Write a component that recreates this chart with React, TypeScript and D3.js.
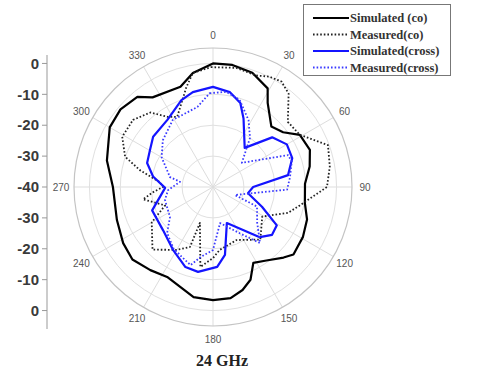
import React from 'react';
import * as d3 from 'd3';

// angle in degrees (clockwise from top), value in dB
const simCoAngles = [0, 9, 19, 29, 33, 44, 52, 59, 69, 78, 88, 100, 109, 119, 130, 135, 144, 152, 158, 164, 171, 180, 190, 207, 217, 228, 238, 251, 270, 284, 300, 310, 320, 326, 342, 350];
const simCoValues = [0, 0, -0.9, -3.5, -7.5, -12.8, -11.2, -7.2, -6.4, -8, -10.2, -9.8, -7.8, -6.7, -6, -7.7, -10.6, -12.2, -7.6, -5.3, -3.6, -3.4, -3.8, -7.3, -6.3, -4.9, -5.7, -7.1, -7.6, -4.6, -1.4, -0.9, -1.9, -5, -5.9, -2.5];

const measCoAngles = [359, 11, 21, 27, 33, 39, 49, 59, 70, 80, 90, 102, 109, 121, 138, 156, 174, 180, 189, 200, 201, 210, 224, 240, 249, 260, 265, 270, 275, 283, 289, 299, 310, 320, 327, 333, 345, 350];
const measCoValues = [-1.2, -0.7, -1.3, 0.1, 0.7, -1.1, -7.9, -7.2, -0.4, -1.6, -3.1, -11.3, -14.3, -21.4, -17.1, -21.2, -19.5, -17, -13.8, -27.6, -19.2, -16.5, -11.8, -17.1, -23.4, -17, -20.5, -23.8, -22.8, -15.7, -9.9, -6.4, -6.2, -8.5, -12.9, -14.5, -6.6, -2.5];

const simCrossAngles = [0, 10, 18, 24, 39, 50, 60, 70, 81, 90, 100, 112, 121, 129, 137, 159, 170, 177, 190, 199, 212, 229, 249, 269, 280, 290, 300, 310, 326, 340, 348];
const simCrossValues = [-7.6, -8.8, -11.4, -15.7, -23.7, -15, -12.4, -12.7, -15.4, -27, -28.5, -22.9, -15.9, -15.4, -17.8, -27.5, -17.7, -14.1, -12.1, -12.6, -15.8, -18.6, -18.9, -24.5, -20.3, -17.3, -16.4, -14.7, -13.7, -10.1, -8.6];

const measCrossAngles = [358, 8, 17, 28, 37, 50, 67, 72, 83, 92, 110, 114, 129, 140, 150, 169, 180, 190, 196, 204, 213, 225, 235, 255, 266, 279, 283, 300, 313, 329, 349];
const measCrossValues = [-9.6, -8.9, -10.5, -15.5, -20.1, -27.8, -13.6, -13.2, -14.9, -16, -32.4, -24.4, -21.6, -16.3, -22.7, -28.1, -19.6, -17, -13.7, -15.2, -16.4, -19, -23, -23.9, -25.4, -29.2, -25.7, -20.8, -17.8, -14.7, -13.6];

const ringValues = [-30, -20, -10, 0];
const spokeAngles = [0, 30, 60, 90, 120, 150, 180, 210, 240, 270, 300, 330];
const axisTickValues = [0, -10, -20, -30, -40, -30, -20, -10, 0];

const legendLabels = ['Simulated (co)', 'Measured(co)', 'Simulated(cross)', 'Measured(cross)'];

const W = 480;
const H = 376;
const cx = 213;
const cy = 187;
const R = 139;

const App = () => {
  const r = d3.scaleLinear().domain([-40, 5]).range([0, R]);
  const rad = (deg: number) => (deg * Math.PI) / 180;

  const line = d3.lineRadial<[number, number]>()
    .angle(d => rad(d[0]))
    .radius(d => r(d[1]))
    .curve(d3.curveLinearClosed);

  const series = [
    { angles: simCoAngles, values: simCoValues, color: '#000', dash: null, width: 2.2 },
    { angles: measCoAngles, values: measCoValues, color: '#222', dash: '1.6,2', width: 1.8 },
    { angles: simCrossAngles, values: simCrossValues, color: '#1414ff', dash: null, width: 2.2 },
    { angles: measCrossAngles, values: measCrossValues, color: '#3a3aff', dash: '1.6,2', width: 1.8 },
  ];

  // left dB axis: upper half goes up from center, lower half mirrors it
  const axisY = (i: number) => {
    const v = axisTickValues[i];
    const half = Math.floor(axisTickValues.length / 2);
    return i <= half ? cy - r(v) : cy + r(v);
  };

  return (
    <svg width={W} height={H} style={{ position: 'absolute', left: 0, top: 0, background: '#fff' }}>
      <rect width={W} height={H} fill="#fff" />

      {/* left axis */}
      <line x1={47} x2={47} y1={55} y2={329} stroke="#999" strokeWidth={1} />
      {axisTickValues.map((v, i) => (
        <g key={'t' + i}>
          <line x1={42} x2={47} y1={axisY(i)} y2={axisY(i)} stroke="#999" />
          <text x={39} y={axisY(i)} dy="0.35em" textAnchor="end" fontFamily="Liberation Sans, Arial, sans-serif" fontWeight="bold" fontSize={15} fill="#3a3a3a">
            {v}
          </text>
        </g>
      ))}

      <g transform={`translate(${cx},${cy})`}>
        {/* grid */}
        {spokeAngles.map(a => (
          <line key={'s' + a} x1={0} y1={0} x2={R * Math.sin(rad(a))} y2={-R * Math.cos(rad(a))} stroke="#ddd" strokeWidth={1} />
        ))}
        {ringValues.map(v => (
          <circle key={'c' + v} r={r(v)} fill="none" stroke="#e0e0e0" strokeWidth={1} />
        ))}
        <circle r={R} fill="none" stroke="#c4c4c4" strokeWidth={1.2} />
        {spokeAngles.map(a => (
          <text key={'l' + a} x={(R + 13) * Math.sin(rad(a))} y={-(R + 13) * Math.cos(rad(a))} dy="0.35em" textAnchor="middle" fontFamily="Liberation Sans, Arial, sans-serif" fontSize={10} fill="#555">
            {a}
          </text>
        ))}

        {/* curves */}
        {series.map((s, i) => (
          <path
            key={'p' + i}
            d={line(s.angles.map((a, j) => [a, s.values[j]] as [number, number])) || ''}
            fill="none"
            stroke={s.color}
            strokeWidth={s.width}
            strokeDasharray={s.dash || undefined}
            strokeLinejoin="round"
          />
        ))}
      </g>

      {/* legend */}
      <g>
        <rect x={303.5} y={4.5} width={147} height={71} fill="#fff" stroke="#777" strokeWidth={1} />
        {legendLabels.map((lab, i) => {
          const y = 18 + i * 16.5;
          const s = series[i];
          return (
            <g key={'lg' + i}>
              <line x1={313} x2={349} y1={y} y2={y} stroke={s.color} strokeWidth={s.width} strokeDasharray={s.dash || undefined} />
              <text x={350} y={y} dy="0.35em" fontFamily="Liberation Serif, serif" fontWeight="bold" fontSize={12.5} fill="#333">
                {lab}
              </text>
            </g>
          );
        })}
      </g>

      <text x={222} y={366} textAnchor="middle" fontFamily="Liberation Serif, serif" fontWeight="bold" fontSize={16} fill="#222">
        24 GHz
      </text>
    </svg>
  );
};

export default App;
